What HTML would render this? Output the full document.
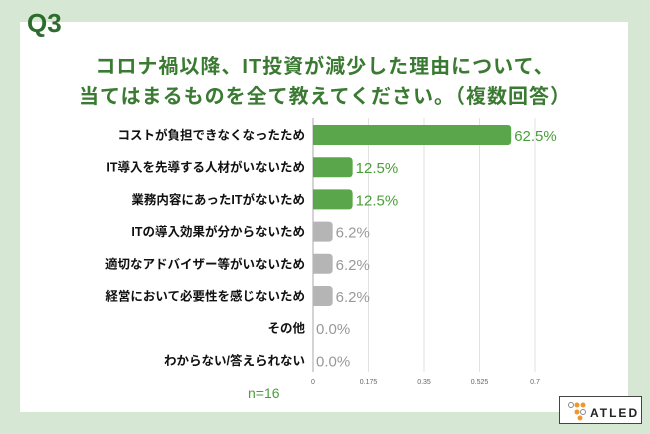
<!DOCTYPE html>
<html><head><meta charset="utf-8"><style>
body{margin:0;width:650px;height:434px;background:#d6e8d3;overflow:hidden;font-family:"Liberation Sans","Noto Sans CJK JP",sans-serif;}
#panel{position:absolute;left:20px;top:22px;width:608px;height:390px;background:#fff;}
#q{position:absolute;left:27px;top:8px;font-size:26px;font-weight:bold;color:#2e6b2e;}
.t{position:absolute;left:0;width:650px;text-align:center;font-size:20px;font-weight:bold;color:#3a7a32;letter-spacing:1px;}
#logo{position:absolute;left:559px;top:396px;width:83px;height:28px;background:#fff;border:1px solid #444;box-sizing:border-box;}
</style></head><body>
<div id="panel"></div>
<div id="q">Q3</div>
<div class="t" style="top:50px">コロナ禍以降、IT投資が減少した理由について、</div>
<div class="t" style="top:80px">当てはまるものを全て教えてください。（複数回答）</div>
<svg id="chart" width="650" height="434" style="position:absolute;left:0;top:0"></svg>
<div id="logo">
<svg width="83" height="28" style="position:absolute;left:0;top:0">
<circle cx="11" cy="8" r="2.5" fill="none" stroke="#888"/><circle cx="17" cy="8" r="2.5" fill="#f0962a"/><circle cx="23" cy="8" r="2.5" fill="#f0962a"/>
<circle cx="17" cy="15" r="2.5" fill="#f0962a"/><circle cx="23" cy="15" r="2.5" fill="none" stroke="#888"/><circle cx="20" cy="21" r="2.5" fill="#f0962a"/>
<text x="30" y="20" font-size="12" font-weight="bold" letter-spacing="2" fill="#222" font-family="Liberation Sans,sans-serif">ATLED</text></svg></div>
<script>
const categories=["コストが負担できなくなったため","IT導入を先導する人材がいないため","業務内容にあったITがないため","ITの導入効果が分からないため","適切なアドバイザー等がいないため","経営において必要性を感じないため","その他","わからない/答えられない"];
const values=[0.625,0.125,0.125,0.062,0.062,0.062,0,0];
const labels=["62.5%","12.5%","12.5%","6.2%","6.2%","6.2%","0.0%","0.0%"];
const ticks=[0,0.175,0.35,0.525,0.7];
const tickLabels=["0","0.175","0.35","0.525","0.7"];
const svg=document.getElementById('chart');const NS='http://www.w3.org/2000/svg';
const x=v=>313+v*(222/0.7);const y=i=>135+i*32.2;
function mk(t,a,txt){const e=document.createElementNS(NS,t);for(const k in a)e.setAttribute(k,a[k]);if(txt!==undefined)e.textContent=txt;svg.appendChild(e);return e;}
ticks.forEach((t,i)=>{const g=mk('line',{x1:x(t),x2:x(t),y1:118,y2:372,stroke:i?'#e2e2e2':'#aaa','stroke-width':1});

const l=mk('text',{x:x(t),y:384,'font-size':7,fill:'#666','text-anchor':'middle'},tickLabels[i]);
});
categories.forEach((c,i)=>{const green=values[i]>0.1;
const l=mk('text',{x:305,y:y(i)+4.5,'font-size':12.5,'font-weight':'bold',fill:'#111','text-anchor':'end'},c);

const w=x(values[i])-x(0);
if(w>0){const r=4;const x0=x(0),y0=y(i)-10,h=20;
const p=mk('path',{d:`M${x0},${y0}H${x0+w-r}Q${x0+w},${y0} ${x0+w},${y0+r}V${y0+h-r}Q${x0+w},${y0+h} ${x0+w-r},${y0+h}H${x0}Z`,fill:green?'#5aa64a':'#b5b5b5'});
}
const v=mk('text',{x:x(values[i])+3,y:y(i)+6,'font-size':15,fill:green?'#4a9e3a':'#999'},labels[i]);
});
const n=mk('text',{x:248,y:398,'font-size':14,fill:'#4a9e3a'},'n=16');

</script>
</body></html>
